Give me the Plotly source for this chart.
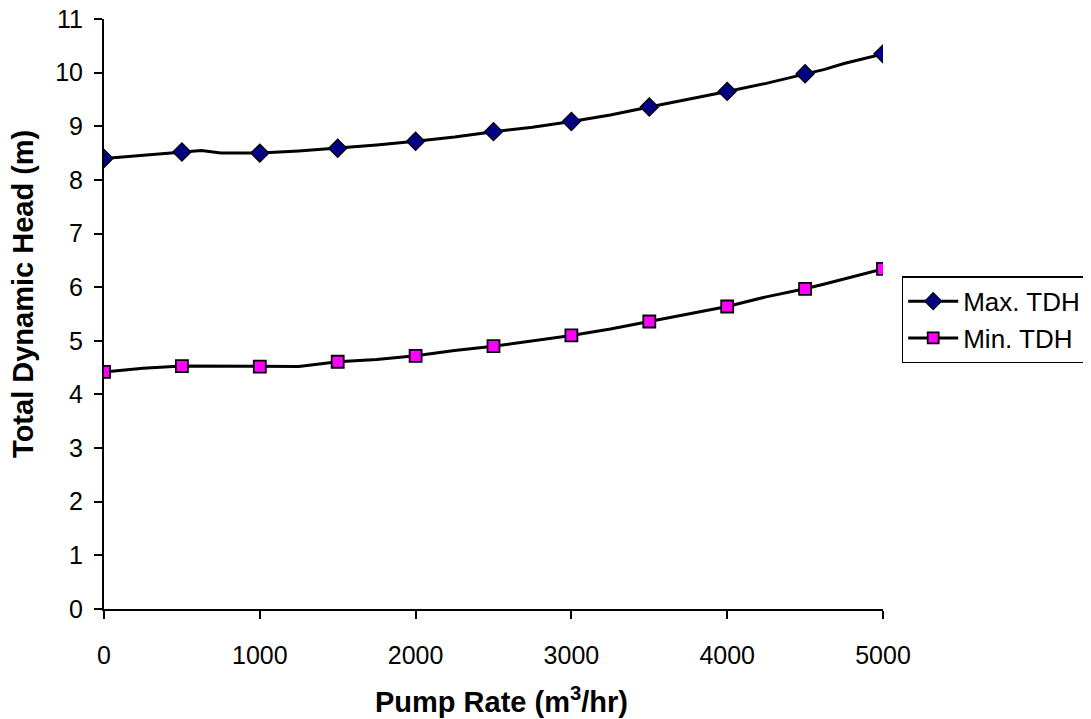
import plotly.graph_objects as go

# Marker points (every 500 m3/hr)
rate_pts = [0, 500, 1000, 1500, 2000, 2500, 3000, 3500, 4000, 4500, 5000]
max_tdh_pts = [8.40, 8.52, 8.50, 8.59, 8.72, 8.90, 9.09, 9.36, 9.65, 9.98, 10.35]
min_tdh_pts = [4.42, 4.53, 4.52, 4.61, 4.72, 4.90, 5.10, 5.36, 5.64, 5.97, 6.34]

# Finer curve points
rate_line = [0, 250, 500, 625, 750, 1000, 1250, 1500, 1750, 2000, 2250, 2500, 2750,
             3000, 3250, 3500, 3750, 4000, 4250, 4500, 4625, 4750, 5000]
max_tdh_line = [8.40, 8.46, 8.52, 8.55, 8.50, 8.50, 8.54, 8.59, 8.65, 8.72, 8.80, 8.90, 8.98,
                9.09, 9.21, 9.36, 9.50, 9.65, 9.80, 9.98, 10.06, 10.17, 10.35]
min_tdh_line = [4.42, 4.49, 4.53, 4.53, 4.52, 4.52, 4.52, 4.61, 4.65, 4.72, 4.82, 4.90, 5.00,
                5.10, 5.22, 5.36, 5.50, 5.64, 5.82, 5.97, 6.06, 6.15, 6.34]

x_ticks = [0, 1000, 2000, 3000, 4000, 5000]
y_ticks = list(range(0, 12))

FONT = "Liberation Sans, Arial, sans-serif"
fig = go.Figure()

fig.add_trace(go.Scatter(x=rate_line, y=max_tdh_line, mode="lines",
                         line=dict(color="black", width=3), showlegend=False, hoverinfo="skip"))
fig.add_trace(go.Scatter(x=rate_line, y=min_tdh_line, mode="lines",
                         line=dict(color="black", width=3), showlegend=False, hoverinfo="skip"))
fig.add_trace(go.Scatter(x=rate_pts, y=max_tdh_pts, mode="markers", showlegend=False,
                         marker=dict(symbol="diamond", size=14, color="#000080",
                                     line=dict(color="black", width=1.2))))
fig.add_trace(go.Scatter(x=rate_pts, y=min_tdh_pts, mode="markers", showlegend=False,
                         marker=dict(symbol="square", size=12, color="#FF00FF",
                                     line=dict(color="black", width=1.8))))
# legend entries
fig.add_trace(go.Scatter(x=[None], y=[None], mode="lines+markers", name="Max. TDH",
                         line=dict(color="black", width=3),
                         marker=dict(symbol="diamond", size=13, color="#000080",
                                     line=dict(color="black", width=1.2))))
fig.add_trace(go.Scatter(x=[None], y=[None], mode="lines+markers", name="Min. TDH",
                         line=dict(color="black", width=3),
                         marker=dict(symbol="square", size=11, color="#FF00FF",
                                     line=dict(color="black", width=1.8))))

fig.update_layout(
    width=1091, height=719,
    paper_bgcolor="white", plot_bgcolor="white",
    margin=dict(l=96, r=216, t=11, b=118),
    font=dict(family=FONT, size=25, color="black"),
    showlegend=True,
    legend=dict(x=1.024, y=0.564, xanchor="left", yanchor="top",
                bordercolor="black", borderwidth=1.5, bgcolor="white",
                font=dict(size=26), tracegroupgap=0, itemwidth=50),
    xaxis=dict(range=[0, 5000], tickvals=x_ticks, showgrid=False, zeroline=False,
               showline=True, linecolor="black", linewidth=2, automargin=False,
               ticks="outside", ticklen=8, tickwidth=2, tickcolor="black",
               ticklabelstandoff=15, ticklabeloverflow="allow", tickfont=dict(size=25)),
    yaxis=dict(range=[0, 11], tickvals=y_ticks, showgrid=False, zeroline=False,
               showline=True, linecolor="black", linewidth=2, automargin=False,
               ticks="outside", ticklen=8, tickwidth=2, tickcolor="black",
               ticklabelstandoff=6, ticklabeloverflow="allow", tickfont=dict(size=25)),
    annotations=[
        dict(text="<b>Pump Rate (m<sup>3</sup>/hr)</b>", xref="paper", yref="paper",
             x=0.51, y=-0.154, xanchor="center", yanchor="middle", showarrow=False,
             font=dict(size=29)),
        dict(text="<b>Total Dynamic Head (m)</b>", xref="paper", yref="paper",
             x=-0.104, y=0.534, xanchor="center", yanchor="middle", showarrow=False,
             textangle=-90, font=dict(size=29)),
    ],
)

fig.write_html("out.html")
